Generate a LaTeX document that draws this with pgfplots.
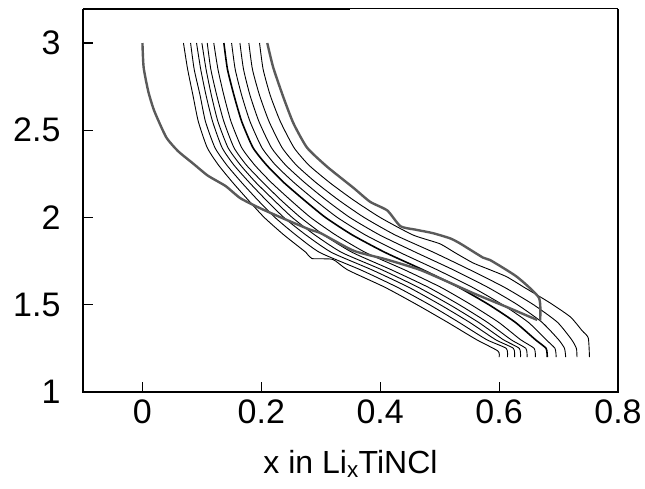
\documentclass[border=0pt]{standalone}
\usepackage{pgfplots}
\pgfplotsset{compat=1.18}
\usepackage{fontspec}
\setmainfont{Liberation Sans}
\definecolor{cyclegray}{HTML}{5A5A5A}

\begin{document}
\begin{tikzpicture}[x=1pt,y=1pt]
\useasboundingbox (-83,-97) rectangle (562,392);
\begin{axis}[
  at={(0,0)}, anchor=south west,
  scale only axis, width=535pt, height=383pt,
  xmin=-0.1, xmax=0.8, ymin=1, ymax=3.195,
  xtick={0,0.2,0.4,0.6,0.8},
  ytick={1,1.5,2,2.5,3},
  xticklabels={0,0.2,0.4,0.6,0.8},
  yticklabels={1,1.5,2,2.5,3},
  xtick pos=bottom, ytick pos=left,
  tick align=inside, major tick length=10pt,
  tick style={line width=1.1pt, black},
  axis line style={draw=none},
  ticklabel style={font=\fontsize{34}{40}\selectfont},
  yticklabel style={xshift=-19pt},
  xticklabel style={yshift=-4pt},
  xlabel={x in Li\textsubscript{x}TiNCl},
  xlabel style={font=\fontsize{32}{38}\selectfont, at={(axis description cs:0.5,0)}, anchor=center, yshift=-72pt},
  clip=false,
  every axis plot/.append style={smooth, tension=0.35},
]
% later cycles
\addplot[black, line width=0.9pt] coordinates {(0.069,3.0)(0.076,2.85)(0.085,2.7)(0.094,2.55)(0.109,2.4)(0.128,2.3)(0.152,2.2)(0.178,2.1)(0.205,2.0)(0.238,1.9)(0.275,1.8)(0.285,1.765)(0.32,1.76)(0.345,1.7)(0.408,1.6)(0.462,1.5)(0.513,1.4)(0.562,1.3)(0.598,1.235)(0.600,1.2)};
\addplot[black, line width=0.9pt] coordinates {(0.081,3)(0.087,2.85)(0.097,2.7)(0.106,2.55)(0.122,2.4)(0.142,2.3)(0.167,2.2)(0.194,2.1)(0.223,2.0)(0.258,1.9)(0.298,1.8)(0.367,1.7)(0.429,1.6)(0.483,1.5)(0.532,1.4)(0.579,1.3)(0.612,1.25)(0.614,1.2)};
\addplot[black, line width=0.9pt] coordinates {(0.091,3)(0.098,2.85)(0.107,2.7)(0.118,2.55)(0.134,2.4)(0.154,2.3)(0.180,2.2)(0.208,2.1)(0.238,2.0)(0.275,1.9)(0.318,1.8)(0.386,1.7)(0.448,1.6)(0.501,1.5)(0.550,1.4)(0.594,1.3)(0.624,1.25)(0.626,1.2)};
\addplot[black, line width=0.9pt] coordinates {(0.100,3)(0.107,2.85)(0.116,2.7)(0.127,2.55)(0.144,2.4)(0.165,2.3)(0.191,2.2)(0.221,2.1)(0.252,2.0)(0.290,1.9)(0.335,1.8)(0.403,1.7)(0.464,1.6)(0.517,1.5)(0.565,1.4)(0.607,1.3)(0.634,1.25)(0.636,1.2)};
\addplot[black, line width=0.9pt] coordinates {(0.109,3)(0.115,2.85)(0.125,2.7)(0.137,2.55)(0.154,2.4)(0.175,2.3)(0.203,2.2)(0.233,2.1)(0.266,2.0)(0.305,1.9)(0.353,1.8)(0.419,1.7)(0.481,1.6)(0.533,1.5)(0.580,1.4)(0.620,1.3)(0.645,1.25)(0.647,1.2)};
\addplot[black, line width=0.9pt] coordinates {(0.120,3)(0.127,2.85)(0.137,2.7)(0.149,2.55)(0.167,2.4)(0.189,2.3)(0.217,2.2)(0.249,2.1)(0.283,2.0)(0.325,1.9)(0.375,1.8)(0.441,1.7)(0.502,1.6)(0.553,1.5)(0.599,1.4)(0.636,1.3)(0.659,1.25)(0.661,1.2)};
\addplot[black, line width=1.6pt] coordinates {(0.137,3)(0.143,2.85)(0.154,2.7)(0.167,2.55)(0.186,2.4)(0.209,2.3)(0.238,2.2)(0.272,2.1)(0.308,2.0)(0.353,1.9)(0.408,1.8)(0.472,1.7)(0.532,1.6)(0.583,1.5)(0.627,1.4)(0.661,1.3)(0.679,1.25)(0.681,1.2)};
\addplot[black, line width=0.9pt] coordinates {(0.150,3)(0.156,2.85)(0.167,2.7)(0.181,2.55)(0.201,2.4)(0.224,2.3)(0.255,2.2)(0.290,2.1)(0.328,2.0)(0.375,1.9)(0.433,1.8)(0.496,1.7)(0.555,1.6)(0.606,1.5)(0.649,1.4)(0.679,1.3)(0.694,1.25)(0.696,1.2)};
\addplot[black, line width=0.9pt] coordinates {(0.164,3)(0.170,2.85)(0.181,2.7)(0.196,2.55)(0.217,2.4)(0.241,2.3)(0.273,2.2)(0.309,2.1)(0.349,2.0)(0.399,1.9)(0.460,1.8)(0.523,1.7)(0.581,1.6)(0.631,1.5)(0.672,1.4)(0.700,1.3)(0.710,1.25)(0.712,1.2)};
\addplot[black, line width=0.9pt] coordinates {(0.179,3)(0.185,2.85)(0.197,2.7)(0.213,2.55)(0.235,2.4)(0.259,2.3)(0.292,2.2)(0.330,2.1)(0.373,2.0)(0.425,1.9)(0.490,1.8)(0.551,1.7)(0.609,1.6)(0.658,1.5)(0.698,1.4)(0.722,1.3)(0.730,1.25)(0.731,1.2)};
\addplot[black, line width=0.9pt] coordinates {(0.197,3)(0.203,2.85)(0.215,2.7)(0.232,2.55)(0.255,2.4)(0.280,2.3)(0.315,2.2)(0.355,2.1)(0.400,2.0)(0.455,1.9)(0.500,1.85)(0.525,1.8)(0.556,1.74)(0.585,1.7)(0.613,1.66)(0.642,1.6)(0.652,1.58)(0.686,1.51)(0.720,1.43)(0.740,1.35)(0.750,1.31)(0.752,1.2)};
% first discharge and highlighted cycle
\addplot[cyclegray, line width=2.4pt] coordinates {(0,3)(0.002,2.86)(0.01,2.72)(0.02,2.61)(0.04,2.46)(0.06,2.38)(0.085,2.31)(0.11,2.24)(0.14,2.18)(0.165,2.11)(0.2,2.05)(0.24,1.99)(0.282,1.93)(0.30,1.91)(0.355,1.81)(0.41,1.76)(0.467,1.70)(0.518,1.625)(0.556,1.567)(0.613,1.487)(0.664,1.413)};
\addplot[cyclegray, line width=2.4pt] coordinates {(0.21,3)(0.22,2.86)(0.237,2.69)(0.254,2.54)(0.277,2.40)(0.311,2.29)(0.355,2.17)(0.383,2.09)(0.412,2.04)(0.434,1.95)(0.46,1.93)(0.489,1.91)(0.518,1.88)(0.535,1.85)(0.573,1.77)(0.585,1.756)(0.63,1.66)(0.667,1.54)(0.669,1.41)};
% frame
\draw[line width=2.2pt] (rel axis cs:0,1) -- (rel axis cs:0,0) -- (rel axis cs:1,0) -- (rel axis cs:1,1);
\draw[line width=2.2pt] (rel axis cs:0,1) -- (axis cs:0.35,3.195);
\draw[line width=1pt] (axis cs:0.35,3.195) -- (rel axis cs:1,1);
\end{axis}
\end{tikzpicture}
\end{document}
